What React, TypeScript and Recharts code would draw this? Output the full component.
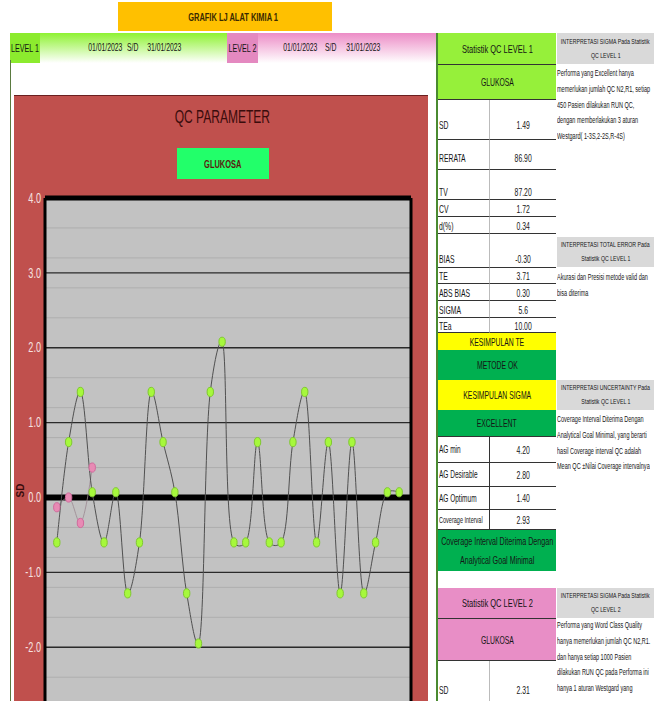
import React from 'react';
import { LineChart, Line, XAxis, YAxis, CartesianGrid, ReferenceLine } from 'recharts';

// ---------- data ----------
const days = [1, 2, 3, 4, 5, 6, 7, 8, 9, 10, 11, 12, 13, 14, 15, 16, 17, 18, 19, 20, 21, 22, 23, 24, 25, 26, 27, 28, 29, 30];
const level1Sd = [-0.60, 0.74, 1.41, 0.07, -0.60, 0.07, -1.28, -0.60, 1.41, 0.74, 0.07, -1.28, -1.95, 1.41, 2.08, -0.60, -0.60, 0.74, -0.60, -0.60, 0.74, 1.41, -0.60, 0.74, -1.28, 0.74, -1.28, -0.60, 0.07, 0.07];
const level2Sd = [-0.13, 0.0, -0.34, 0.40];
const yTicks = [-4, -3, -2, -1, 0, 1, 2, 3, 4];
const xTicks = [0, 1, 2, 3, 4, 5, 6, 7, 8, 9, 10, 11, 12, 13, 14, 15, 16, 17, 18, 19, 20, 21, 22, 23, 24, 25, 26, 27, 28, 29, 30, 31];
const thinLines = [-3, -2, -1, 1, 2, 3];

const stat1Labels = ['SD', 'RERATA', 'TV', 'CV', 'd(%)', 'BIAS', 'TE', 'ABS BIAS', 'SIGMA', 'TEa'];
const stat1Values = ['1.49', '86.90', '87.20', '1.72', '0.34', '-0.30', '3.71', '0.30', '5.6', '10.00'];
const agLabels = ['AG min', 'AG Desirable', 'AG Optimum', 'Coverage Interval'];
const agValues = ['4.20', '2.80', '1.40', '2.93'];

const data = days.map((d, i) => ({ day: d, l1: level1Sd[i], l2: i < level2Sd.length ? level2Sd[i] : null }));

// minor grid every 0.2 SD
const minorTicks: number[] = [];
for (let k = -20; k <= 20; k++) minorTicks.push(Math.round(k * 2) / 10);

// ---------- styling helpers ----------
const FONT = '"Liberation Sans", Arial, sans-serif';
const SX = 0.65;

function N({ children, o = 'center', style }: { children: React.ReactNode; o?: string; style?: React.CSSProperties }) {
  return (
    <span style={{ display: 'inline-block', transform: `scaleX(${SX})`, transformOrigin: o, whiteSpace: 'nowrap', ...style }}>{children}</span>
  );
}

// Excel-like smooth line (Catmull-Rom, alpha-parameterised)
const ALPHA = 0.4;
function excelSmooth(context: any) {
  let pts: number[][] = [];
  const dist = (a: number[], b: number[]) => Math.pow(Math.hypot(a[0] - b[0], a[1] - b[1]), ALPHA);
  return {
    areaStart() {},
    areaEnd() {},
    lineStart() { pts = []; },
    point(x: number, y: number) { pts.push([+x, +y]); },
    lineEnd() {
      const n = pts.length;
      if (!n) return;
      context.moveTo(pts[0][0], pts[0][1]);
      for (let i = 0; i < n - 1; i++) {
        const p0 = pts[i - 1];
        const p1 = pts[i];
        const p2 = pts[i + 1];
        const p3 = pts[i + 2];
        const d12 = dist(p1, p2);
        let c1 = [p1[0], p1[1]];
        let c2 = [p2[0], p2[1]];
        if (p0) {
          const d01 = dist(p0, p1);
          if (d01 > 1e-9) {
            const a = 2 * d01 * d01 + 3 * d01 * d12 + d12 * d12;
            const m = 3 * d01 * (d01 + d12);
            c1 = [0, 1].map((k) => (p1[k] * a - p0[k] * d12 * d12 + p2[k] * d01 * d01) / m);
          }
        }
        if (p3) {
          const d23 = dist(p2, p3);
          if (d23 > 1e-9) {
            const b = 2 * d23 * d23 + 3 * d23 * d12 + d12 * d12;
            const m = 3 * d23 * (d23 + d12);
            c2 = [0, 1].map((k) => (p2[k] * b + p1[k] * d23 * d23 - p3[k] * d12 * d12) / m);
          }
        }
        context.bezierCurveTo(c1[0], c1[1], c2[0], c2[1], p2[0], p2[1]);
      }
    },
  };
}

const greenDot = (props: any) => {
  const { cx, cy, index } = props;
  if (cx == null || cy == null) return <g key={`g${index}`} />;
  return <ellipse key={`g${index}`} cx={cx} cy={cy} rx={3.2} ry={4.6} fill="#A6F83C" stroke="#80C830" strokeWidth={1} />;
};
const pinkDot = (props: any) => {
  const { cx, cy, index, value } = props;
  if (cx == null || cy == null || value == null) return <g key={`p${index}`} />;
  return <ellipse key={`p${index}`} cx={cx} cy={cy} rx={3.2} ry={4.6} fill="#E88AB4" stroke="#D06A9C" strokeWidth={1} />;
};

const YTick = (props: any) => {
  const { x, y, payload } = props;
  return (
    <text transform={`translate(${x + 4},${y}) scale(${SX},1)`} textAnchor="end" dominantBaseline="central" fill="#F6E2E0" fontSize={14} fontFamily={FONT}>
      {Number(payload.value).toFixed(1)}
    </text>
  );
};

const abs = (l: number, t: number, w: number, h: number, extra: any = {}): React.CSSProperties => ({
  position: 'absolute', left: l, top: t, width: w, height: h, boxSizing: 'border-box', ...extra,
});
const center: React.CSSProperties = { display: 'flex', alignItems: 'center', justifyContent: 'center' };

export default function App() {
  const statRows = [
    [100, 140, 125], [140, 170, 158], [170, 200, 192], [200, 217, 209], [217, 234, 226], [234, 268, 259], [268, 284, 276], [284, 301, 293], [301, 318, 310], [318, 333, 326],
  ];
  const agRows = [[437, 463], [463, 487], [487, 510], [510, 530]];

  const rightNotes: { top: number; h: number; title: string[]; lines: string[]; lineTop: number }[] = [
    { top: 33, h: 31, title: ['INTERPRETASI SIGMA Pada Statistik', 'QC LEVEL 1'], lineTop: 66, lines: ['Performa yang Excellent hanya', 'memerlukan jumlah QC N2,R1, setiap', '450 Pasien dilakukan RUN QC,', 'dengan memberlakukan 3 aturan', 'Westgard( 1-3S,2-2S,R-4S)'] },
    { top: 237, h: 30, title: ['INTERPRETASI TOTAL ERROR Pada', 'Statistik QC LEVEL 1'], lineTop: 270, lines: ['Akurasi dan Presisi metode valid dan', 'bisa diterima'] },
    { top: 380, h: 30, title: ['INTERPRETASI UNCERTAINTY Pada', 'Statistik QC LEVEL 1'], lineTop: 412, lines: ['Coverage Interval Diterima Dengan', 'Analytical Goal Minimal, yang berarti', 'hasil Coverage interval QC adalah', 'Mean QC \u00b1Nilai Coverage intervalnya'] },
    { top: 588, h: 30, title: ['INTERPRETASI SIGMA Pada Statistik', 'QC LEVEL 2'], lineTop: 618, lines: ['Performa yang Word Class Quality', 'hanya memerlukan jumlah QC N2,R1.', 'dan hanya setiap 1000 Pasien', 'dilakukan RUN QC pada Performa ini', 'hanya 1 aturan Westgard yang'] },
  ];

  const headerTexts: [string, number][] = [['01/01/2023', 105], ['S/D', 133], ['31/01/2023', 164], ['01/01/2023', 300], ['S/D', 331], ['31/01/2023', 363]];

  return (
    <div style={{ position: 'absolute', left: 0, top: 0, width: 654, height: 701, overflow: 'hidden', background: '#fff', fontFamily: FONT, color: '#151515' }}>
      {/* title */}
      <div style={abs(118, 2, 214, 29, { background: '#FFC000', ...center, paddingLeft: 16, fontSize: 11.5, color: '#3a2a00', fontWeight: 'bold' })}><N>GRAFIK LJ ALAT KIMIA 1</N></div>

      {/* header band */}
      <div style={abs(10, 33, 218, 30, { background: 'linear-gradient(#8EF232, #ffffff)' })} />
      <div style={abs(228, 33, 210, 30, { background: 'linear-gradient(#EC8CC6, #ffffff)' })} />
      <div style={abs(10, 33, 30, 30, { background: '#8CEB2E', display: 'flex', alignItems: 'center', fontSize: 11, paddingLeft: 1 })}><N o="left center">LEVEL 1</N></div>
      <div style={abs(227, 33, 31, 30, { background: '#E489C0', ...center, fontSize: 11 })}><N>LEVEL 2</N></div>
      {headerTexts.map(([t, x], i) => (
        <div key={i} style={abs(x - 40, 40, 80, 14, { ...center, fontSize: 10.5 })}><N>{t}</N></div>
      ))}
      <div style={abs(10, 60, 1, 641, { background: '#5a7a40' })} />
      <div style={abs(436, 33, 2, 668, { background: '#4a8a30' })} />

      {/* chart panel */}
      <div style={abs(14, 95, 414, 720, { background: '#C0504D', borderTop: '1px solid #6a2020' })}>
        <div style={abs(0, 8, 414, 26, { ...center, fontSize: 18.5, color: '#3a0c0c', paddingLeft: 2 })}><N>QC PARAMETER</N></div>
        <div style={abs(163, 52, 92, 31, { background: '#22FF6A', ...center, fontSize: 11.5, fontWeight: 'bold', color: '#5a1a10' })}><N>GLUKOSA</N></div>
        <div style={{ position: 'absolute', left: 0, top: 0 }}>
          <LineChart width={414} height={720} data={data} margin={{ top: 102, right: 17, bottom: 0, left: 0 }}>
            <CartesianGrid
              fill="#C2C2C2"
              stroke="#AEAEAE"
              strokeWidth={1}
              vertical={false}
              horizontalValues={minorTicks}
            />
            <CartesianGrid
              stroke="#9A9A9A"
              strokeWidth={1}
              horizontal={false}
              verticalValues={xTicks}
            />
            <XAxis dataKey="day" type="number" domain={[0, 31]} ticks={xTicks} tick={false} tickLine={false} axisLine={false} height={19} />
            <YAxis
              type="number"
              domain={[-4, 4]}
              ticks={yTicks}
              width={31}
              tickLine={false}
              axisLine={{ stroke: '#000', strokeWidth: 3 }}
              tick={<YTick />}
              label={{ value: 'SD', angle: -90, position: 'insideLeft', offset: 6, fill: '#3a0c0c', fontSize: 10, fontWeight: 'bold', fontFamily: FONT }}
            />
            {thinLines.map((v) => (
              <ReferenceLine key={v} y={v} stroke="#2a2a2a" strokeWidth={1.3} />
            ))}
            <ReferenceLine y={4} stroke="#000" strokeWidth={5} />
            <ReferenceLine y={0} stroke="#000" strokeWidth={6} />
            <ReferenceLine x={31} stroke="#000" strokeWidth={3} />
            <Line dataKey="l2" type={excelSmooth as any} stroke="#9a8890" strokeWidth={0.8} dot={pinkDot} activeDot={false} isAnimationActive={false} connectNulls={false} />
            <Line dataKey="l1" type={excelSmooth as any} stroke="#505050" strokeWidth={1} dot={greenDot} activeDot={false} isAnimationActive={false} />
          </LineChart>
        </div>
      </div>

      {/* stats table level 1 */}
      <div style={abs(438, 33, 118, 32, { background: '#96F03A', borderBottom: '1px solid #333', ...center, fontSize: 11.5 })}><N>Statistik QC LEVEL 1</N></div>
      <div style={abs(438, 65, 118, 35, { background: '#96F03A', borderBottom: '1px solid #333', ...center, fontSize: 10.5 })}><N>GLUKOSA</N></div>
      {statRows.map(([t, b, c], i) => (
        <React.Fragment key={i}>
          <div style={abs(438, t, 52, b - t, { borderBottom: '1px solid #333', borderRight: '1px solid #bbb' })} />
          <div style={abs(490, t, 66, b - t, { borderBottom: '1px solid #333' })} />
          <div style={abs(439, c - 7, 52, 14, { display: 'flex', alignItems: 'center', fontSize: 10.5 })}><N o="left center">{stat1Labels[i]}</N></div>
          <div style={abs(490, c - 7, 66, 14, { ...center, fontSize: 10.5 })}><N>{stat1Values[i]}</N></div>
        </React.Fragment>
      ))}
      <div style={abs(438, 333, 118, 17, { background: '#FFFF00', ...center, fontSize: 10.5 })}><N>KESIMPULAN TE</N></div>
      <div style={abs(438, 350, 118, 30, { background: '#00B050', ...center, fontSize: 10.5 })}><N>METODE OK</N></div>
      <div style={abs(438, 380, 118, 30, { background: '#FFFF00', ...center, fontSize: 10.5 })}><N>KESIMPULAN SIGMA</N></div>
      <div style={abs(438, 410, 118, 27, { background: '#00B050', borderBottom: '1px solid #333', ...center, fontSize: 10.5 })}><N>EXCELLENT</N></div>
      {agRows.map(([t, b], i) => (
        <React.Fragment key={i}>
          <div style={abs(438, t, 52, b - t, { borderBottom: '1px solid #333', borderRight: '1px solid #333', display: 'flex', alignItems: 'center', paddingLeft: 1, fontSize: i === 3 ? 8.5 : 10 })}><N o="left center">{agLabels[i]}</N></div>
          <div style={abs(490, t, 66, b - t, { borderBottom: '1px solid #333', ...center, fontSize: 10.5 })}><N>{agValues[i]}</N></div>
        </React.Fragment>
      ))}
      <div style={abs(438, 530, 118, 41, { background: '#00B050', display: 'flex', flexDirection: 'column', alignItems: 'center', justifyContent: 'space-around', fontSize: 11, lineHeight: '16px', padding: '2px 0' })}>
        <N>Coverage Interval Diterima Dengan</N>
        <N>Analytical Goal Minimal</N>
      </div>

      {/* level 2 */}
      <div style={abs(438, 588, 118, 31, { background: '#E88EC6', borderBottom: '1px solid #333', ...center, fontSize: 11.5 })}><N>Statistik QC LEVEL 2</N></div>
      <div style={abs(438, 619, 118, 42, { background: '#E88EC6', borderBottom: '1px solid #333', ...center, fontSize: 10.5 })}><N>GLUKOSA</N></div>
      <div style={abs(438, 661, 52, 40, { borderRight: '1px solid #bbb' })} />
      <div style={abs(439, 683, 52, 14, { display: 'flex', alignItems: 'center', fontSize: 10.5 })}><N o="left center">SD</N></div>
      <div style={abs(490, 683, 66, 14, { ...center, fontSize: 10.5 })}><N>2.31</N></div>

      {/* interpretation notes */}
      {rightNotes.map((n, i) => (
        <React.Fragment key={i}>
          <div style={abs(557, n.top, 97, n.h, { background: '#D9D9D9', display: 'flex', flexDirection: 'column', alignItems: 'center', justifyContent: 'center', fontSize: 8, lineHeight: '14px' })}>
            {n.title.map((t, j) => <N key={j}>{t}</N>)}
          </div>
          {n.lines.map((t, j) => (
            <div key={j} style={abs(557, n.lineTop + j * 15.8, 97, 15, { fontSize: 8.5, lineHeight: '15px', whiteSpace: 'nowrap' })}><N o="left center">{t}</N></div>
          ))}
        </React.Fragment>
      ))}
    </div>
  );
}
